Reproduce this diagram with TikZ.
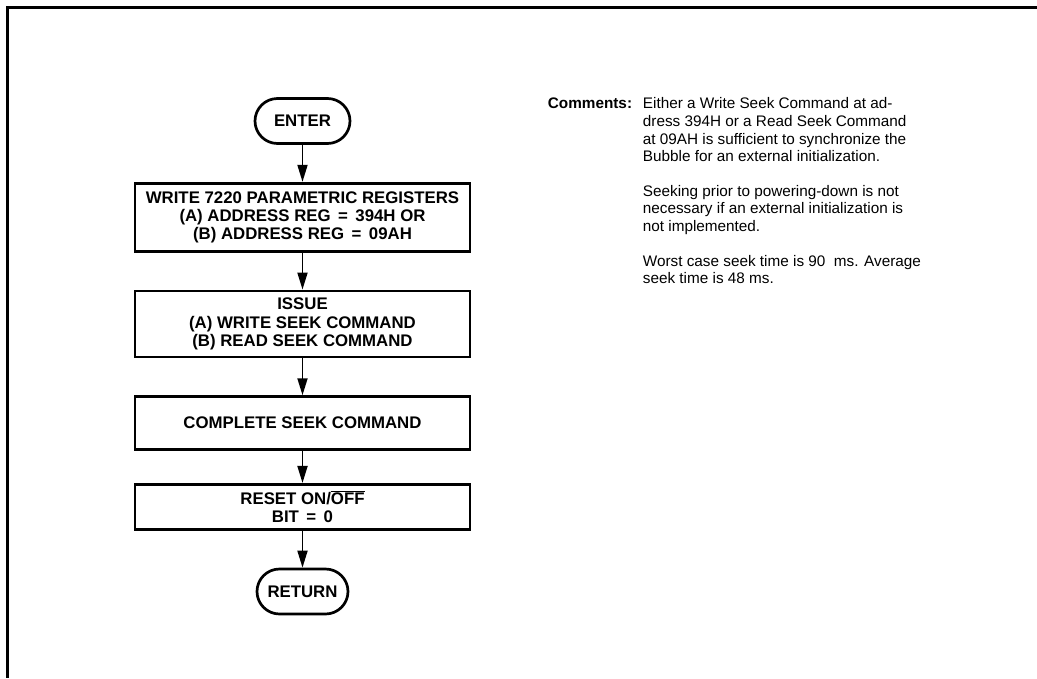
\documentclass[tikz,border=0pt]{standalone}
\usepackage{fontspec}
\setmainfont{Liberation Sans}
\usetikzlibrary{arrows.meta, positioning}
\tikzset{
    flowchart/.style={x=1pt, y=-1pt, >={Triangle[length=17pt, width=10pt]}, line width=1.8pt, node distance=37pt},
    process/.style={draw, line width=2.7pt, minimum width=335pt, inner sep=2pt, align=center, font=\fontsize{16.8}{18.3}\selectfont\bfseries},
    terminal/.style={process, rounded corners=22.5pt, minimum height=45pt},
    note/.style={inner sep=0pt, align=left, font=\fontsize{15.3}{17.6}\selectfont},
}
\begin{document}
\begin{tikzpicture}[flowchart]
    \useasboundingbox (0,0) rectangle (1037,678);
    % scanned frame: only the top and left edges are on the page
    \draw[line width=3pt] (1037,7.5) -| (7.5,678);

    \node[terminal, minimum width=95pt] at (302.5,121) (enter) {ENTER};
    \node[process, minimum height=68pt, below=of enter] (params)
        {WRITE 7220 PARAMETRIC REGISTERS\\(A) ADDRESS REG~\,=\,~394H OR\\(B) ADDRESS REG~\,=\,~09AH};
    \node[process, minimum height=66pt, below=of params] (issue)
        {ISSUE\\(A) WRITE SEEK COMMAND\\(B) READ SEEK COMMAND};
    \node[process, minimum height=53pt, below=of issue] (complete) {COMPLETE SEEK COMMAND};
    \node[process, minimum height=45pt, below=32pt of complete] (reset)
        {RESET ON/$\overline{\mbox{OFF}}$\\BIT~\,=\,~0};
    \node[terminal, minimum width=91pt, below=of reset] (return) {RETURN};

    \draw[->] (enter) -- (params);
    \draw[->] (params) -- (issue);
    \draw[->] (issue) -- (complete);
    \draw[->] (complete) -- (reset);
    \draw[->] (reset) -- (return);

    % comments beside the chart
    \node[note, anchor=base east] at (633,108) (label) {\bfseries Comments:};
    \node[note, anchor=north west] at (642,97) (notes)
        {Either a Write Seek Command at ad-\\dress 394H or a Read Seek Command\\at 09AH is sufficient to synchronize the\\Bubble for an external initialization.\\[17pt]
         Seeking prior to powering-down is not\\necessary if an external initialization is\\not implemented.\\[17pt]
         Worst case seek time is 90~ ms. Average\\seek time is 48 ms.};
\end{tikzpicture}
\end{document}
